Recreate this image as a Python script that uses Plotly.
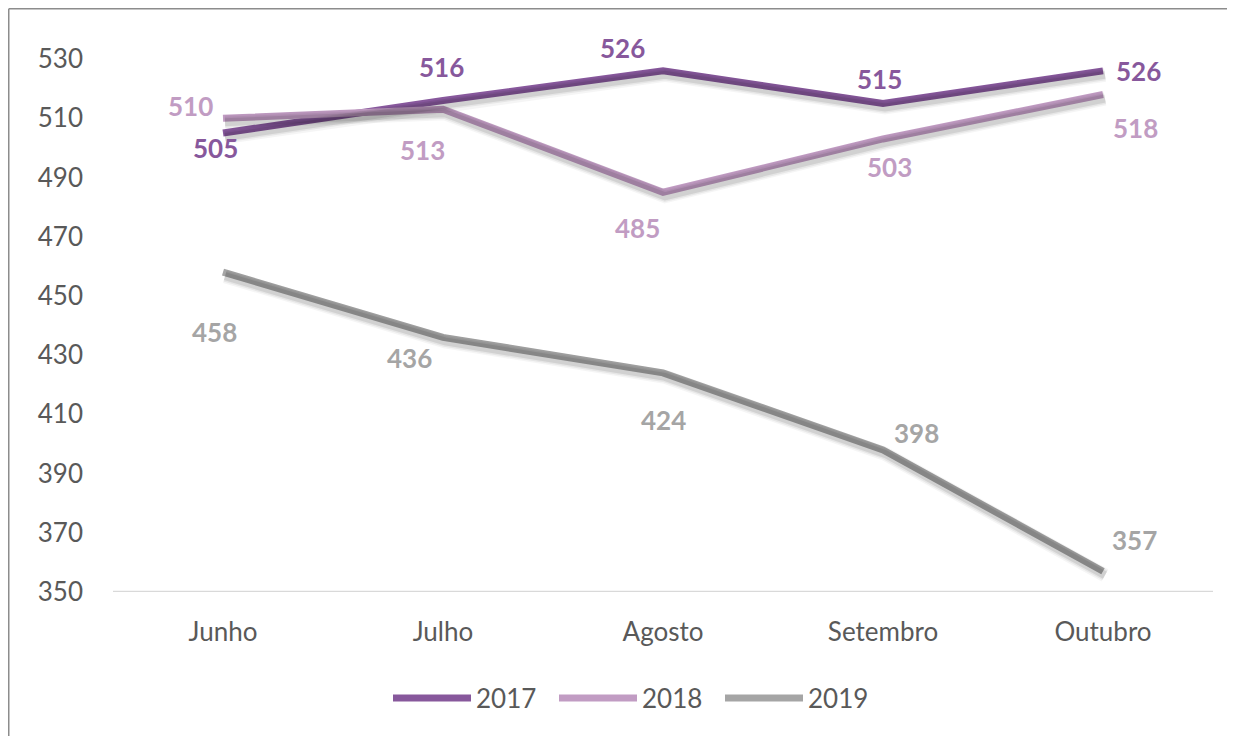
import plotly.graph_objects as go

# ---- data ----
months = ["Junho", "Julho", "Agosto", "Setembro", "Outubro"]
years = ["2017", "2018", "2019"]
v2017 = [505, 516, 526, 515, 526]
v2018 = [510, 513, 485, 503, 518]
v2019 = [458, 436, 424, 398, 357]
y_ticks = [350, 370, 390, 410, 430, 450, 470, 490, 510, 530]

series = [v2017, v2018, v2019]

# ---- style ----
colors = ["#87589c", "#c19cc3", "#a5a5a5"]
label_offsets = [
    [(-8, -15), (-2, 33), (-41, 23), (-4, 24), (35, 0)],
    [(-33, 12), (-21, -41), (-26, -36), (6, -28), (32, -33)],
    [(-9, -60), (-34, -21), (0, -47), (33, 17), (31, 31)],
]
font_family = "Lato, 'Open Sans', sans-serif"
tick_color = "#595959"
fs = 26

# page body has an 8px margin; keep the figure inside the viewport
W, H = 1219, 728
L, R, T, B = 105, 14, 51, 144
pw, ph = W - L - R, H - T - B
px_per_unit = ph / (y_ticks[-1] - y_ticks[0])
dy_units = 4 / px_per_unit
dx_units = 2 / (pw / len(months))

fig = go.Figure()

# soft shadows (same data drawn on slightly offset overlay axes)
for width, alpha in [(14, 0.04), (11, 0.06), (8, 0.09)]:
    for vals in series:
        fig.add_trace(go.Scatter(
            x=months, y=vals, mode="lines", xaxis="x2", yaxis="y2",
            line=dict(color=f"rgba(0,0,0,{alpha})", width=width),
            showlegend=False, hoverinfo="skip"))

for name, vals, col in zip(years, series, colors):
    fig.add_trace(go.Scatter(
        x=months, y=vals, mode="lines", name=name,
        line=dict(color=col, width=7)))

for vals, col, offs in zip(series, colors, label_offsets):
    for m, v, (dx, dy) in zip(months, vals, offs):
        fig.add_annotation(
            x=m, y=v, text=f"<b>{v}</b>", showarrow=False,
            xshift=dx, yshift=dy,
            font=dict(family=font_family, size=fs, color=col))

top_y = 1 + (T - 0.75) / ph
left_x = (0.75 - L) / pw
fig.update_layout(
    width=W, height=H,
    margin=dict(l=L, r=R, t=T, b=B),
    paper_bgcolor="white", plot_bgcolor="white",
    font=dict(family=font_family, color=tick_color),
    xaxis=dict(
        range=[-0.5, len(months) - 0.5], showgrid=False, zeroline=False,
        showline=False, ticks="", tickfont=dict(size=fs, color=tick_color),
        ticklabelstandoff=22),
    yaxis=dict(
        range=[y_ticks[0], y_ticks[-1]], tickvals=y_ticks, showgrid=False,
        zeroline=False, showline=False, ticks="",
        tickfont=dict(size=fs, color=tick_color), ticklabelstandoff=29),
    xaxis2=dict(
        range=[-0.5 - dx_units, len(months) - 0.5 - dx_units], overlaying="x",
        visible=False),
    yaxis2=dict(
        range=[y_ticks[0] + dy_units, y_ticks[-1] + dy_units], overlaying="y",
        visible=False),
    legend=dict(
        orientation="h", x=(629 - L) / pw, xanchor="center",
        y=-(690 - (H - B)) / ph, yanchor="middle",
        font=dict(size=fs, color=tick_color), itemwidth=78,
        entrywidth=73, entrywidthmode="pixels", tracegroupgap=0),
    shapes=[
        dict(type="line", xref="paper", yref="y", x0=0, x1=1,
             y0=y_ticks[0], y1=y_ticks[0],
             line=dict(color="#d9d9d9", width=2.5), layer="below"),
        dict(type="line", xref="paper", yref="paper",
             x0=left_x, x1=(W + 20 - L) / pw, y0=top_y, y1=top_y,
             line=dict(color="#8c8c8c", width=1.5)),
        dict(type="line", xref="paper", yref="paper",
             x0=left_x, x1=left_x, y0=-(H + 20 - (H - B)) / ph, y1=top_y,
             line=dict(color="#8c8c8c", width=1.5)),
    ],
)

fig.write_html("out.html")
